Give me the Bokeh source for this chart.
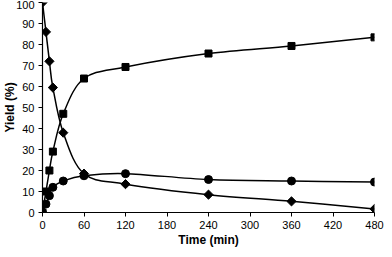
import math
from bokeh.plotting import figure
from bokeh.models import FixedTicker, Range1d
from bokeh.embed import file_html
from bokeh.resources import INLINE

time_min = [0, 5, 10, 15, 30, 60, 120, 240, 360, 480]
diamond_vals = [100, 86, 72, 59.5, 38, 18.5, 13.5, 8.5, 5.3, 1.7]
square_vals = [0, 10, 20, 29, 47, 63.8, 69.3, 75.7, 79.3, 83.4]
circle_vals = [0, 4, 8, 12, 15, 17.5, 18.5, 15.7, 15, 14.5]
x_ticks = [0, 60, 120, 180, 240, 300, 360, 420, 480]
y_ticks = [0, 10, 20, 30, 40, 50, 60, 70, 80, 90, 100]

p = figure(width=384, height=249, output_backend="svg", toolbar_location=None,
           x_range=Range1d(0, 480), y_range=Range1d(0, 100),
           min_border_left=0, min_border_right=10, min_border_top=2, min_border_bottom=0)
p.outline_line_color = None
p.grid.visible = False
p.background_fill_color = "white"


def smooth_segments(xs, ys):
    # Catmull-Rom style Bezier control points (as Excel smoothed lines)
    n = len(xs)
    x0, y0, x1, y1, cx0, cy0, cx1, cy1 = [], [], [], [], [], [], [], []
    for i in range(n - 1):
        xp, yp = (xs[i - 1], ys[i - 1]) if i > 0 else (xs[i], ys[i])
        xn, yn = (xs[i + 2], ys[i + 2]) if i + 2 < n else (xs[i + 1], ys[i + 1])
        x0.append(xs[i]); y0.append(ys[i]); x1.append(xs[i + 1]); y1.append(ys[i + 1])
        cx0.append(xs[i] + (xs[i + 1] - xp) / 6); cy0.append(ys[i] + (ys[i + 1] - yp) / 6)
        cx1.append(xs[i + 1] - (xn - xs[i]) / 6); cy1.append(ys[i + 1] - (yn - ys[i]) / 6)
    return dict(x0=x0, y0=y0, x1=x1, y1=y1, cx0=cx0, cy0=cy0, cx1=cx1, cy1=cy1)


for vals in (diamond_vals, square_vals, circle_vals):
    p.bezier(line_color="black", line_width=1.5, **smooth_segments(time_min, vals))

p.scatter(time_min, diamond_vals, marker="square", angle=math.pi / 4, size=6.5, color="black")
p.scatter(time_min, square_vals, marker="square", size=7, color="black")
p.scatter(time_min, circle_vals, marker="circle", size=8, color="black")

for ax in (p.xaxis[0], p.yaxis[0]):
    ax.axis_line_color = "black"
    ax.axis_line_width = 1.2
    ax.major_tick_line_color = "black"
    ax.major_tick_in = 0
    ax.major_tick_out = 4
    ax.minor_tick_line_color = None
    ax.major_label_text_font = "Liberation Sans"
    ax.major_label_text_font_size = "11px"
    ax.major_label_text_color = "black"
    ax.major_label_text_line_height = 1.0
    ax.axis_label_text_font = "Liberation Sans"
    ax.axis_label_text_font_size = "12px"
    ax.axis_label_text_font_style = "bold"
    ax.axis_label_text_color = "black"
    ax.axis_label_text_line_height = 1.0

p.xaxis.ticker = FixedTicker(ticks=x_ticks)
p.yaxis.ticker = FixedTicker(ticks=y_ticks)
p.xaxis.axis_label = "Time (min)"
p.yaxis.axis_label = "Yield (%)"
p.xaxis.axis_label_standoff = 1
p.yaxis.axis_label_standoff = -4
p.xaxis.major_label_standoff = 4
p.yaxis.major_label_standoff = 4

open("out.html", "w").write(file_html(p, INLINE))
